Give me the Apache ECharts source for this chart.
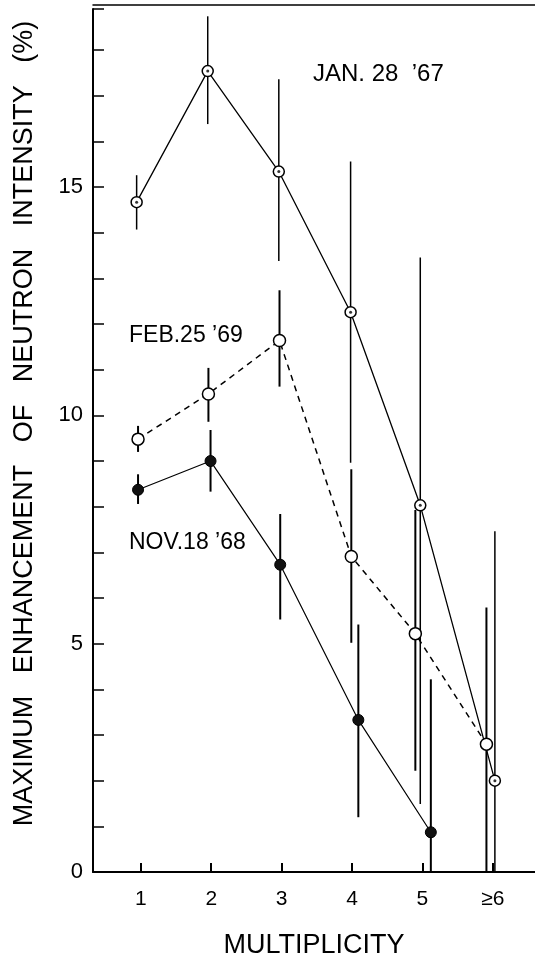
<!DOCTYPE html>
<html>
<head>
<meta charset="utf-8">
<script src="https://cdn.jsdelivr.net/npm/echarts@6/dist/echarts.min.js"></script>
<style>
  html, body { margin: 0; padding: 0; background: #fff; }
  #chart { width: 535px; height: 964px; }
</style>
</head>
<body>
<div id="chart"></div>
<script>
// multiplicity tick labels
var xTicks = [1, 2, 3, 4, 5, 6];
var xTickLabels = ['1', '2', '3', '4', '5', '≥6'];

// Jan. 28 '67
var janX = [0.94, 1.95, 2.96, 3.98, 4.97, 6.03];
var janY = [14.67, 17.54, 15.34, 12.26, 8.03, 2.0];
var janLow = [14.07, 16.38, 13.38, 8.96, 1.49, 0];
var janHigh = [15.26, 18.74, 17.36, 15.56, 13.46, 7.46];

// Feb. 25 '69
var febX = [0.96, 1.96, 2.97, 3.99, 4.9, 5.91];
var febY = [9.48, 10.47, 11.64, 6.91, 5.22, 2.8];
var febLow = [9.2, 9.86, 10.63, 5.02, 2.22, 0];
var febHigh = [9.77, 11.04, 12.74, 8.82, 7.93, 5.79];

// Nov. 18 '68
var novX = [0.96, 1.99, 2.98, 4.09, 5.12];
var novY = [8.37, 9.0, 6.73, 3.33, 0.87];
var novLow = [8.06, 8.33, 5.53, 1.2, 0];
var novHigh = [8.71, 9.68, 7.84, 5.42, 4.22];

function pairs(xs, ys) {
    return xs.map(function (x, i) { return [x, ys[i]]; });
}
function bars(xs, lo, hi) {
    return xs.map(function (x, i) { return [x, lo[i], hi[i]]; });
}
function errorBar(width) {
    return function (params, api) {
        var p1 = api.coord([api.value(0), api.value(1)]);
        var p2 = api.coord([api.value(0), api.value(2)]);
        return {
            type: 'line',
            shape: { x1: p1[0], y1: p1[1], x2: p2[0], y2: p2[1] },
            style: { stroke: '#000', lineWidth: width }
        };
    };
}

var font = 'Liberation Sans';
var chart = echarts.init(document.getElementById('chart'));

var option = {
    animation: false,
    backgroundColor: '#fff',
    grid: { left: 93, right: 0, top: 9, bottom: 88 },
    xAxis: [{
        type: 'value',
        min: 0.32,
        max: 6.6,
        name: 'MULTIPLICITY',
        nameLocation: 'middle',
        nameGap: 60,
        nameTextStyle: { fontFamily: font, fontSize: 27, color: '#000' },
        axisLine: { lineStyle: { color: '#000', width: 2 } },
        axisTick: { inside: true, length: 9, customValues: xTicks, lineStyle: { color: '#000', width: 2 } },
        axisLabel: {
            customValues: xTicks,
            margin: 17,
            fontFamily: font, fontSize: 21, color: '#000',
            formatter: function (v) { return xTickLabels[xTicks.indexOf(v)]; }
        },
        splitLine: { show: false }
    }, {
        type: 'value',
        position: 'top',
        offset: 4,
        min: 0.32,
        max: 6.6,
        axisLine: { lineStyle: { color: '#000', width: 1.5 } },
        axisTick: { show: false },
        axisLabel: { show: false },
        splitLine: { show: false }
    }],
    yAxis: {
        type: 'value',
        min: 0,
        max: 18.9,
        interval: 1,
        name: 'MAXIMUM   ENHANCEMENT   OF   NEUTRON   INTENSITY   (%)',
        nameLocation: 'middle',
        nameGap: 55,
        nameTextStyle: { fontFamily: font, fontSize: 27, color: '#000', padding: [0, 0, 0, 34] },
        axisLine: { lineStyle: { color: '#000', width: 2 } },
        axisTick: { inside: true, length: 11, lineStyle: { color: '#000', width: 1.5 } },
        axisLabel: {
            margin: 10,
            fontFamily: font, fontSize: 22, color: '#000',
            formatter: function (v) { return v % 5 === 0 ? String(v) : ''; }
        },
        splitLine: { show: false }
    },
    graphic: [
        { type: 'text', left: 313, top: 62, style: { text: 'JAN. 28  ’67', font: '24px "Liberation Sans"', fill: '#000' } },
        { type: 'text', left: 129, top: 324, style: { text: 'FEB.25 ’69', font: '23px "Liberation Sans"', fill: '#000' } },
        { type: 'text', left: 129, top: 531, style: { text: 'NOV.18 ’68', font: '23px "Liberation Sans"', fill: '#000' } }
    ],
    series: [
        { type: 'custom', renderItem: errorBar(1.5), data: bars(janX, janLow, janHigh), z: 1 },
        { type: 'custom', renderItem: errorBar(2), data: bars(febX, febLow, febHigh), z: 1 },
        { type: 'custom', renderItem: errorBar(2), data: bars(novX, novLow, novHigh), z: 1 },
        {
            name: 'Jan. 28 67', type: 'line', data: pairs(janX, janY), z: 3,
            symbol: 'circle', symbolSize: 11,
            lineStyle: { color: '#000', width: 1.3 },
            itemStyle: { color: '#fff', borderColor: '#000', borderWidth: 1.5 }
        },
        {
            name: 'Jan dots', type: 'scatter', data: pairs(janX, janY), z: 4,
            symbolSize: 3, itemStyle: { color: '#000' }
        },
        {
            name: 'Feb. 25 69', type: 'line', data: pairs(febX, febY), z: 3,
            symbol: 'circle', symbolSize: 12,
            lineStyle: { color: '#000', width: 1.5, type: [6, 5] },
            itemStyle: { color: '#fff', borderColor: '#000', borderWidth: 1.5 }
        },
        {
            name: 'Nov. 18 68', type: 'line', data: pairs(novX, novY), z: 3,
            symbol: 'circle', symbolSize: 11,
            lineStyle: { color: '#000', width: 1.2 },
            itemStyle: { color: '#111', borderColor: '#000', borderWidth: 1 }
        }
    ]
};

chart.setOption(option);
</script>
</body>
</html>
